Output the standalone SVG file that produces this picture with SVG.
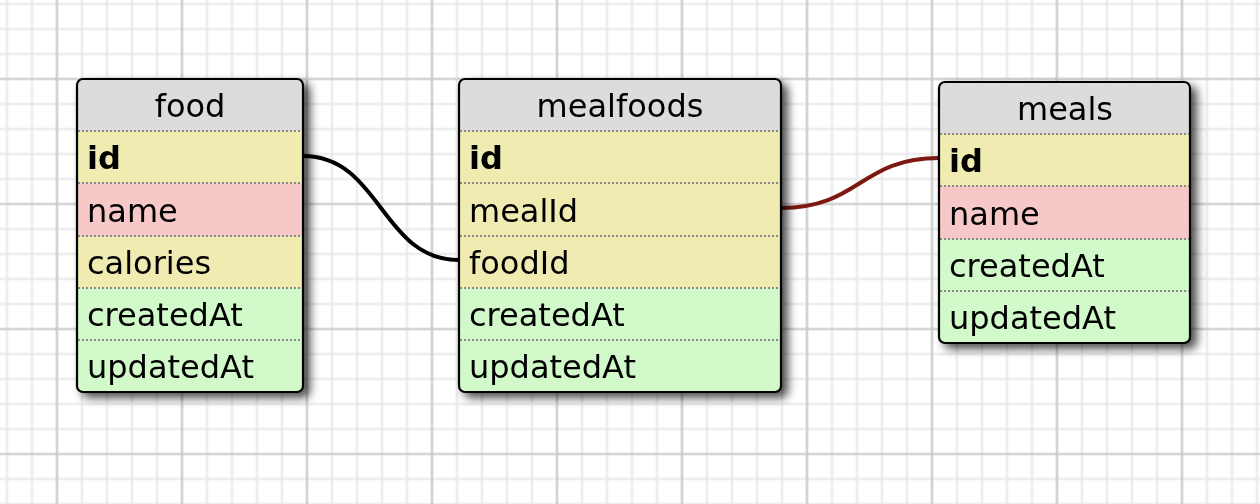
<svg xmlns="http://www.w3.org/2000/svg" width="1260" height="504" viewBox="0 0 1260 504">
<style>
.t{font-family:"DejaVu Sans",Verdana,sans-serif;font-size:32px;fill:#000}
.b{font-weight:bold}
.hd{fill:#dcdcdc}
.y{fill:#efebb1}
.p{fill:#f6c8c8}
.g{fill:#d2f9c9}
.dv{stroke:#888;stroke-width:2;stroke-dasharray:2 2;fill:none}
.bd{fill:none;stroke:#000;stroke-width:2.2}
.minor{stroke:#e8e8e8;stroke-width:2}
.major{stroke:#c8c8c8;stroke-width:2.2}
</style>
<defs>
<pattern id="grid" patternUnits="userSpaceOnUse" x="44.5" y="66.5" width="125" height="125">
<path class="minor" d="M37.5 0V125M62.5 0V125M87.5 0V125M112.5 0V125M0 37.5H125M0 62.5H125M0 87.5H125M0 112.5H125"/>
<path class="major" d="M12.5 0V125M0 12.5H125"/>
</pattern>
<filter id="sh" x="-10%" y="-10%" width="130%" height="130%">
<feGaussianBlur in="SourceAlpha" stdDeviation="5"/>
<feOffset dx="6" dy="5" result="o"/>
<feComponentTransfer><feFuncA type="linear" slope="0.7"/></feComponentTransfer>
<feMerge><feMergeNode/><feMergeNode in="SourceGraphic"/></feMerge>
</filter>
<clipPath id="c1"><rect x="77" y="79" width="226" height="313" rx="6"/></clipPath>
<clipPath id="c2"><rect x="459" y="79" width="322" height="313" rx="6"/></clipPath>
<clipPath id="c3"><rect x="939" y="82" width="251" height="261" rx="6"/></clipPath>
</defs>
<rect width="1260" height="504" fill="#fff"/>
<rect width="1260" height="504" fill="url(#grid)"/>
<g id="connectors" fill="none" stroke-width="4">
<path d="M303 156C381 156 381 260 459 260" stroke="#000"/>
<path d="M781 208C860 208 860 158 939 158" stroke="#7d1810"/>
</g>
<g id="food" filter="url(#sh)">
<g clip-path="url(#c1)">
<rect class="hd" x="77" y="79" width="226" height="52"/>
<rect class="y" x="77" y="131" width="226" height="52"/>
<rect class="p" x="77" y="183" width="226" height="53"/>
<rect class="y" x="77" y="236" width="226" height="52"/>
<rect class="g" x="77" y="288" width="226" height="52"/>
<rect class="g" x="77" y="340" width="226" height="52"/>
</g>
<path class="dv" d="M78 131H302M78 183H302M78 236H302M78 288H302M78 340H302"/>
<rect class="bd" x="77" y="79" width="226" height="313" rx="6"/>
<text class="t" x="190" y="117" text-anchor="middle">food</text>
<text class="t b" x="87" y="169">id</text>
<text class="t" x="87" y="222">name</text>
<text class="t" x="87" y="274">calories</text>
<text class="t" x="87" y="326">createdAt</text>
<text class="t" x="87" y="378">updatedAt</text>
</g>
<g id="mealfoods" filter="url(#sh)">
<g clip-path="url(#c2)">
<rect class="hd" x="459" y="79" width="322" height="52"/>
<rect class="y" x="459" y="131" width="322" height="52"/>
<rect class="y" x="459" y="183" width="322" height="53"/>
<rect class="y" x="459" y="236" width="322" height="52"/>
<rect class="g" x="459" y="288" width="322" height="52"/>
<rect class="g" x="459" y="340" width="322" height="52"/>
</g>
<path class="dv" d="M460 131H780M460 183H780M460 236H780M460 288H780M460 340H780"/>
<rect class="bd" x="459" y="79" width="322" height="313" rx="6"/>
<text class="t" x="620" y="117" text-anchor="middle">mealfoods</text>
<text class="t b" x="469" y="169">id</text>
<text class="t" x="469" y="222">mealId</text>
<text class="t" x="469" y="274">foodId</text>
<text class="t" x="469" y="326">createdAt</text>
<text class="t" x="469" y="378">updatedAt</text>
</g>
<g id="meals" filter="url(#sh)">
<g clip-path="url(#c3)">
<rect class="hd" x="939" y="82" width="251" height="52"/>
<rect class="y" x="939" y="134" width="251" height="52"/>
<rect class="p" x="939" y="186" width="251" height="53"/>
<rect class="g" x="939" y="239" width="251" height="52"/>
<rect class="g" x="939" y="291" width="251" height="52"/>
</g>
<path class="dv" d="M940 134H1189M940 186H1189M940 239H1189M940 291H1189"/>
<rect class="bd" x="939" y="82" width="251" height="261" rx="6"/>
<text class="t" x="1065" y="120" text-anchor="middle">meals</text>
<text class="t b" x="949" y="172">id</text>
<text class="t" x="949" y="225">name</text>
<text class="t" x="949" y="277">createdAt</text>
<text class="t" x="949" y="329">updatedAt</text>
</g>
</svg>
